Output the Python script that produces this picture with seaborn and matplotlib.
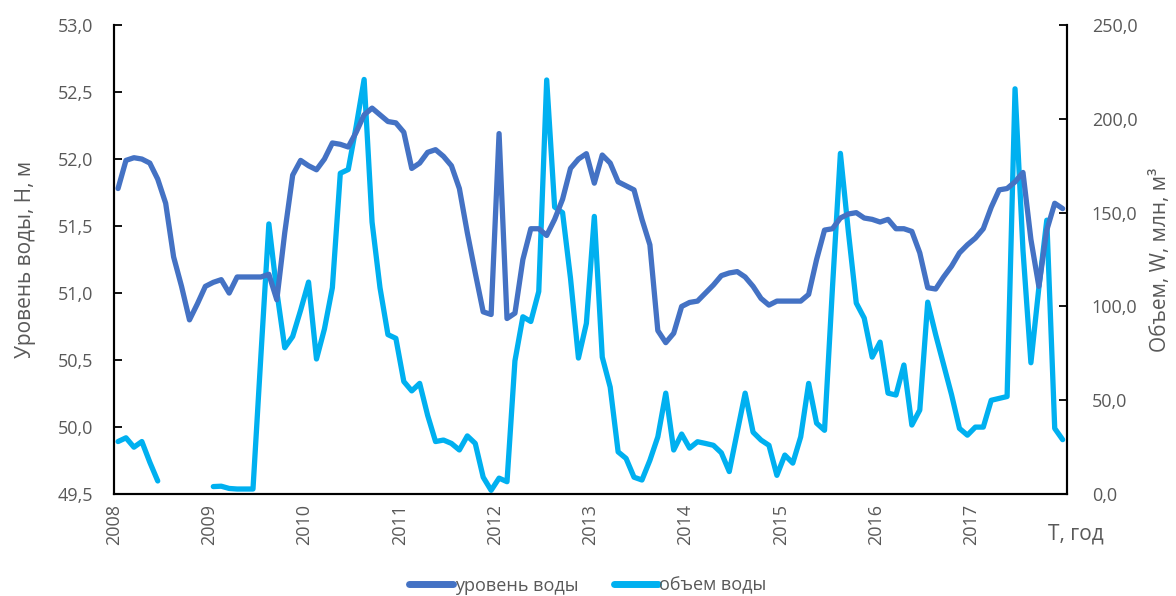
import numpy as np
import pandas as pd
import seaborn as sns
import matplotlib.pyplot as plt
from matplotlib.lines import Line2D
from matplotlib.ticker import FuncFormatter

# Годы на оси X
years = [2008, 2009, 2010, 2011, 2012, 2013, 2014, 2015, 2016, 2017]

# Уровень воды, Н, м (помесячно, 2008-2017)
level = [
    51.78, 51.99, 52.01, 52.00, 51.97, 51.85, 51.67, 51.27, 51.05, 50.80, 50.92, 51.05,
    51.08, 51.10, 51.00, 51.12, 51.12, 51.12, 51.12, 51.14, 50.95, 51.45, 51.88, 51.99,
    51.95, 51.92, 52.00, 52.12, 52.11, 52.09, 52.20, 52.33, 52.38, 52.33, 52.28, 52.27,
    52.20, 51.93, 51.97, 52.05, 52.07, 52.02, 51.95, 51.78, 51.45, 51.15, 50.86, 50.84,
    52.19, 50.81, 50.85, 51.25, 51.48, 51.48, 51.43, 51.55, 51.70, 51.93, 52.00, 52.04,
    51.82, 52.03, 51.97, 51.83, 51.80, 51.77, 51.55, 51.36, 50.72, 50.63, 50.70, 50.90,
    50.93, 50.94, 51.00, 51.06, 51.13, 51.15, 51.16, 51.12, 51.05, 50.96, 50.91, 50.94,
    50.94, 50.94, 50.94, 50.99, 51.25, 51.47, 51.48, 51.56, 51.59, 51.60, 51.56, 51.55,
    51.53, 51.55, 51.48, 51.48, 51.46, 51.30, 51.04, 51.03, 51.12, 51.20, 51.30, 51.36,
    51.41, 51.48, 51.64, 51.77, 51.78, 51.83, 51.90, 51.40, 51.05, 51.47, 51.67, 51.63,
]

# Объем воды, W, млн м3 (пропуск во второй половине 2008 г.)
volume = [
    28.0, 30.0, 25.0, 28.0, 17.0, 7.0, None, None, None, None, None, None,
    4.0, 4.2, 3.0, 2.7, 2.7, 2.7, 74.0, 144.0, 108.0, 78.0, 84.0, 98.0,
    113.0, 72.0, 88.0, 110.0, 171.0, 173.0, 196.0, 221.0, 145.0, 110.0, 85.0, 83.0,
    60.0, 55.0, 59.0, 42.0, 28.0, 28.8, 27.0, 23.5, 31.0, 27.0, 9.0, 2.0,
    8.5, 6.6, 71.0, 94.5, 92.0, 108.0, 220.7, 153.0, 150.0, 115.0, 72.5, 91.0,
    148.0, 73.0, 57.0, 22.5, 19.0, 9.0, 7.5, 18.0, 30.5, 53.8, 23.5, 32.0,
    24.5, 27.9, 27.0, 26.0, 22.0, 12.0, 33.0, 53.8, 33.0, 28.8, 26.0, 10.0,
    20.8, 16.5, 30.5, 59.0, 37.8, 34.0, 110.0, 181.6, 140.0, 101.8, 93.8, 73.0,
    81.0, 53.8, 52.8, 68.8, 36.8, 44.8, 102.3, 85.0, 69.0, 53.0, 35.0, 31.4,
    35.7, 35.7, 50.0, 51.0, 52.0, 216.0, 130.0, 70.0, 110.0, 146.0, 35.0, 29.0,
]

df = pd.DataFrame({
    'Время': years[0] + (np.arange(len(level)) + 0.5) / 12,
    'Уровень': level,
    'Объем': pd.to_numeric(pd.Series(volume), errors='coerce'),
})
df['Участок'] = df['Объем'].isna().cumsum()

sns.set_style('white')
plt.rcParams['font.family'] = ['Open Sans', 'DejaVu Sans']

c_level = '#4472C4'
c_volume = '#00B0F0'
c_text = '#595959'

fig = plt.figure(figsize=(11.76, 5.96), dpi=100)
ax = fig.add_axes([0.097, 0.171, 0.81, 0.787])
ax2 = ax.twinx()

sns.lineplot(data=df, x='Время', y='Уровень', color=c_level, lw=3.8, ax=ax,
             legend=False, solid_joinstyle='round', solid_capstyle='round')
sns.lineplot(data=df.dropna(), x='Время', y='Объем', units='Участок', estimator=None,
             color=c_volume, lw=3.8, ax=ax2, legend=False,
             solid_joinstyle='round', solid_capstyle='round')
ax.set_zorder(ax2.get_zorder() + 1)
ax.patch.set_visible(False)

fmt = FuncFormatter(lambda v, _: f'{v:.1f}'.replace('.', ','))

ax.set_xlim(2008, 2018)
ax.set_xticks(years)
ax.set_xticklabels([str(y) for y in years], rotation=90)
ax.set_ylim(49.5, 53.0)
ax.set_yticks(np.arange(49.5, 53.01, 0.5))
ax.yaxis.set_major_formatter(fmt)
ax2.set_ylim(0, 250)
ax2.set_yticks(np.arange(0, 251, 50))
ax2.yaxis.set_major_formatter(fmt)

for a in (ax, ax2):
    a.tick_params(direction='in', length=6, width=1.3, color='black',
                  labelcolor=c_text, labelsize=13, pad=7)
    a.spines['top'].set_visible(False)
    for s in ('left', 'right', 'bottom'):
        a.spines[s].set_color('black')
        a.spines[s].set_linewidth(1.5)
ax.tick_params(axis='y', pad=15)
ax2.tick_params(axis='y', pad=18)

ax.set_xlabel('')
ax.set_ylabel('Уровень воды, Н, м', color=c_text, fontsize=15, labelpad=16)
ax2.set_ylabel('Объем, W, млн, м³', color=c_text, fontsize=15, labelpad=9)
ax.text(1.01, -0.085, 'Т, год', transform=ax.transAxes, color=c_text,
        fontsize=15, ha='center', va='center')

handles = [Line2D([], [], color=c_level, lw=5), Line2D([], [], color=c_volume, lw=5)]
fig.legend(handles, ['уровень воды', 'объем воды'], loc='lower center',
           bbox_to_anchor=(0.5, -0.025), ncol=2, frameon=False, fontsize=13,
           labelcolor=c_text, handlelength=2.4, handletextpad=0.1, columnspacing=2.0)

fig.savefig('out.png', dpi=100)
